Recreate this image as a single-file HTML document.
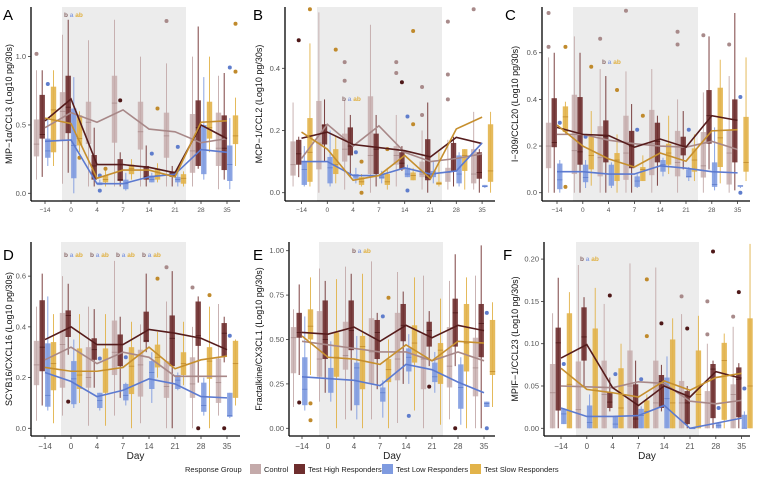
<!DOCTYPE html>
<html><head><meta charset="utf-8"><style>
body{margin:0;background:#fff;}
svg{display:block;font-family:"Liberation Sans",sans-serif;}
</style></head><body>
<svg id="chart" width="757" height="482" viewBox="0 0 757 482"></svg>
<script>
const days = ["\u221214","0","4","7","14","21","28","35"];
const seriesNames = ["Control","Test High Responders","Test Low Responders","Test Slow Responders"];
const panelLetters = ["A","B","C","D","E","F"];
const panelTitles = ["MIP\u22121\u03b1/CCL3 (Log10 pg/30s)","MCP\u22121/CCL2 (Log10 pg/30s)","I\u2212309/CCL20 (Log10 pg/30s)","SCYB16/CXCL16 (Log10 pg/30s)","Fractalkine/CX3CL1 (Log10 pg/30s)","MPIF\u22121/CCL23 (Log10 pg/30s)"];
const yTickValues = [[0,0.5,1.0],[0,0.2,0.4],[0,0.2,0.4,0.6],[0,0.2,0.4,0.6],[0,0.25,0.5,0.75,1.0],[0,0.05,0.1,0.15,0.2]];
const yTickLabels = [["0.0","0.5","1.0"],["0.0","0.2","0.4"],["0.0","0.2","0.4","0.6"],["0.0","0.2","0.4","0.6"],["0.00","0.25","0.50","0.75","1.00"],["0.00","0.05","0.10","0.15","0.20"]];
// means [panel][series][day]
const meansA = [[0.48,0.59,0.52,0.61,0.47,0.45,0.37,0.40],[0.53,0.69,0.21,0.21,0.19,0.15,0.50,0.40],[0.38,0.39,0.07,0.07,0.12,0.14,0.32,0.30],[0.55,0.51,0.11,0.17,0.17,0.12,0.52,0.53]];
const meansB = [[0.11,0.22,0.15,0.215,0.13,0.10,0.11,0.125],[0.175,0.195,0.155,0.145,0.135,0.115,0.178,0.158],[0.10,0.10,0.055,0.055,0.08,0.06,0.07,0.16],[0.195,0.14,0.04,0.055,0.12,0.045,0.205,0.243]];
const meansC = [[0.25,0.25,0.225,0.21,0.20,0.195,0.22,0.185],[0.28,0.25,0.245,0.195,0.23,0.195,0.33,0.31],[0.09,0.09,0.08,0.08,0.115,0.105,0.09,0.085],[0.29,0.20,0.145,0.11,0.17,0.135,0.265,0.27]];
const meansD = [[0.27,0.32,0.255,0.30,0.28,0.205,0.205,0.205],[0.35,0.40,0.33,0.33,0.39,0.375,0.355,0.31],[0.22,0.185,0.125,0.15,0.195,0.175,0.125,0.12],[0.24,0.225,0.225,0.24,0.32,0.235,0.27,0.285]];
const meansE = [[0.49,0.47,0.45,0.43,0.43,0.38,0.43,0.38],[0.54,0.53,0.57,0.49,0.58,0.51,0.58,0.55],[0.29,0.28,0.27,0.24,0.36,0.33,0.26,0.20],[0.52,0.40,0.39,0.36,0.47,0.38,0.49,0.48]];
const meansF = [[0.05,0.049,0.048,0.055,0.053,0.032,0.029,0.033],[0.083,0.099,0.048,0.027,0.05,0.037,0.067,0.059],[0.024,0.014,0.014,0.015,0.027,0.0,0.006,0.012],[0.071,0.046,0.042,0.037,0.056,0.045,0.06,0.065]];
// boxes [series][day] = [lo,q1,med,q3,hi]
const boxesA = [
[[0.1,0.27,0.36,0.54,0.9],[0.07,0.39,0.6,0.74,1.16],[0.05,0.36,0.52,0.67,1.12],[0.05,0.37,0.66,0.86,1.27],[0.05,0.32,0.45,0.67,1.0],[0.05,0.26,0.42,0.59,0.95],[0.05,0.15,0.31,0.58,1.0],[0.03,0.2,0.33,0.59,0.86]],
[[0.12,0.4,0.43,0.72,0.9],[0.15,0.44,0.63,0.86,1.27],[0.05,0.1,0.2,0.28,0.48],[0.05,0.09,0.1,0.25,0.3],[0.05,0.1,0.12,0.2,0.35],[0.05,0.12,0.14,0.16,0.2],[0.18,0.2,0.48,0.68,1.22],[0.1,0.17,0.33,0.57,0.88]],
[[0.2,0.26,0.31,0.4,0.55],[0.0,0.11,0.35,0.62,0.85],[0.06,0.06,0.07,0.08,0.1],[0.02,0.03,0.07,0.1,0.15],[0.08,0.08,0.1,0.13,0.15],[0.05,0.08,0.1,0.12,0.18],[0.1,0.14,0.32,0.5,0.85],[0.03,0.09,0.21,0.35,0.55]],
[[0.2,0.3,0.61,0.78,0.9],[0.3,0.35,0.4,0.57,0.6],[0.05,0.08,0.1,0.13,0.17],[0.1,0.14,0.18,0.21,0.25],[0.08,0.1,0.13,0.18,0.22],[0.05,0.07,0.11,0.14,0.16],[0.3,0.4,0.48,0.67,1.0],[0.2,0.36,0.42,0.57,0.7]]];
const boxesB = [
[[0.02,0.055,0.09,0.165,0.29],[0.0,0.075,0.16,0.295,0.58],[0.01,0.1,0.14,0.19,0.3],[0.0,0.06,0.12,0.31,0.54],[0.02,0.09,0.12,0.15,0.25],[0.01,0.05,0.06,0.1,0.2],[0.01,0.035,0.065,0.08,0.17],[0.01,0.03,0.06,0.14,0.26]],
[[0.05,0.09,0.125,0.17,0.18],[0.1,0.155,0.215,0.22,0.3],[0.05,0.12,0.15,0.21,0.25],[0.02,0.06,0.14,0.19,0.25],[0.07,0.075,0.095,0.13,0.15],[0.0,0.04,0.05,0.172,0.29],[0.02,0.07,0.11,0.16,0.18],[0.0,0.045,0.065,0.13,0.14]],
[[0.02,0.025,0.075,0.1,0.15],[0.02,0.03,0.08,0.115,0.2],[0.03,0.045,0.055,0.06,0.08],[0.03,0.045,0.05,0.06,0.07],[0.05,0.05,0.06,0.08,0.09],[0.03,0.05,0.06,0.07,0.1],[0.02,0.03,0.06,0.12,0.13],[0.015,0.018,0.02,0.025,0.025]],
[[0.02,0.035,0.13,0.24,0.48],[0.03,0.06,0.09,0.14,0.18],[0.02,0.025,0.035,0.05,0.06],[0.01,0.025,0.035,0.06,0.08],[0.04,0.04,0.055,0.065,0.08],[0.02,0.025,0.03,0.035,0.13],[0.01,0.07,0.12,0.14,0.14],[0.0,0.035,0.07,0.22,0.26]]];
const boxesC = [
[[0.0,0.105,0.2,0.3,0.58],[0.0,0.08,0.18,0.42,0.67],[0.0,0.07,0.15,0.285,0.53],[0.0,0.055,0.17,0.33,0.52],[0.0,0.075,0.21,0.355,0.53],[0.0,0.07,0.13,0.265,0.4],[0.0,0.065,0.115,0.26,0.43],[0.0,0.035,0.17,0.27,0.5]],
[[0.0,0.195,0.215,0.405,0.6],[0.0,0.12,0.175,0.41,0.6],[0.0,0.13,0.24,0.31,0.5],[0.0,0.105,0.2,0.265,0.38],[0.03,0.13,0.22,0.3,0.33],[0.1,0.16,0.2,0.24,0.35],[0.1,0.21,0.33,0.44,0.67],[0.01,0.13,0.27,0.4,0.77]],
[[0.0,0.015,0.055,0.125,0.14],[0.02,0.045,0.065,0.12,0.14],[0.02,0.03,0.08,0.12,0.13],[0.02,0.025,0.05,0.07,0.08],[0.07,0.09,0.12,0.14,0.15],[0.05,0.065,0.07,0.1,0.11],[0.01,0.025,0.035,0.13,0.28],[0.02,0.025,0.03,0.03,0.03]],
[[0.25,0.26,0.325,0.37,0.39],[0.03,0.1,0.16,0.24,0.35],[0.0,0.05,0.14,0.17,0.25],[0.05,0.05,0.1,0.11,0.16],[0.08,0.12,0.17,0.21,0.33],[0.05,0.09,0.14,0.19,0.25],[0.04,0.11,0.235,0.45,0.57],[0.05,0.09,0.13,0.325,0.58]]];
const boxesD = [
[[0.03,0.17,0.25,0.345,0.48],[0.05,0.16,0.33,0.455,0.6],[0.01,0.16,0.2,0.32,0.48],[0.05,0.21,0.3,0.425,0.66],[0.02,0.125,0.25,0.31,0.41],[0.0,0.12,0.165,0.265,0.5],[0.0,0.12,0.175,0.28,0.4],[0.05,0.1,0.18,0.275,0.49]],
[[0.09,0.225,0.32,0.505,0.61],[0.29,0.36,0.445,0.465,0.57],[0.16,0.27,0.31,0.355,0.47],[0.12,0.245,0.33,0.37,0.44],[0.3,0.34,0.345,0.46,0.61],[0.0,0.245,0.355,0.445,0.62],[0.18,0.325,0.365,0.5,0.52],[0.26,0.285,0.375,0.415,0.44]],
[[0.07,0.085,0.13,0.335,0.52],[0.08,0.095,0.195,0.265,0.35],[0.07,0.08,0.11,0.14,0.14],[0.09,0.11,0.13,0.175,0.18],[0.1,0.155,0.22,0.265,0.3],[0.15,0.155,0.19,0.21,0.22],[0.05,0.065,0.09,0.18,0.2],[0.04,0.045,0.05,0.14,0.14]],
[[0.02,0.15,0.255,0.34,0.45],[0.1,0.155,0.21,0.315,0.45],[0.01,0.14,0.23,0.315,0.45],[0.0,0.135,0.245,0.32,0.42],[0.2,0.24,0.28,0.33,0.38],[0.17,0.21,0.255,0.3,0.42],[0.0,0.195,0.265,0.32,0.48],[0.09,0.12,0.255,0.345,0.35]]];
const boxesE = [
[[0.12,0.31,0.51,0.57,0.67],[0.15,0.29,0.39,0.66,0.9],[0.05,0.33,0.41,0.6,0.91],[0.05,0.25,0.43,0.62,0.94],[0.03,0.27,0.39,0.65,0.88],[0.0,0.22,0.39,0.53,0.86],[0.05,0.23,0.35,0.57,0.83],[0.0,0.18,0.34,0.51,0.86]],
[[0.3,0.51,0.54,0.65,0.81],[0.2,0.39,0.5,0.72,0.83],[0.1,0.44,0.55,0.72,0.87],[0.22,0.39,0.54,0.61,0.65],[0.25,0.49,0.58,0.7,0.77],[0.35,0.46,0.55,0.6,0.66],[0.35,0.46,0.65,0.73,0.98],[0.0,0.4,0.59,0.7,1.03]],
[[0.1,0.13,0.22,0.4,0.63],[0.15,0.2,0.28,0.34,0.49],[0.05,0.13,0.34,0.37,0.52],[0.06,0.15,0.2,0.23,0.27],[0.25,0.32,0.4,0.45,0.53],[0.2,0.26,0.29,0.37,0.43],[0.02,0.11,0.23,0.36,0.4],[0.12,0.12,0.14,0.15,0.15]],
[[0.3,0.5,0.575,0.67,0.85],[0.0,0.29,0.4,0.54,0.84],[0.0,0.22,0.46,0.52,0.87],[0.0,0.26,0.33,0.39,0.5],[0.1,0.37,0.48,0.58,0.85],[0.02,0.25,0.44,0.48,0.73],[0.0,0.32,0.48,0.7,0.85],[0.12,0.3,0.32,0.61,0.71]]];
const boxesF = [
[[0,0,0.042,0.076,0.136],[0,0,0.022,0.079,0.193],[0,0,0.04,0.08,0.147],[0,0,0.05,0.092,0.195],[0,0,0.03,0.08,0.19],[0,0,0.03,0.056,0.135],[0,0,0.03,0.044,0.1],[0,0,0.04,0.052,0.12]],
[[0,0.021,0.101,0.119,0.178],[0.05,0.08,0.108,0.143,0.155],[0.02,0.024,0.031,0.043,0.06],[0,0,0.011,0.052,0.08],[0.02,0.024,0.055,0.063,0.075],[0,0.005,0.03,0.044,0.05],[0,0.012,0.07,0.076,0.08],[0,0.013,0.058,0.072,0.077]],
[[0.005,0.005,0.017,0.023,0.024],[0,0,0.007,0.027,0.04],[0,0,0.005,0.014,0.015],[0,0,0.015,0.023,0.026],[0,0,0.035,0.06,0.085],[0,0,0,0,0],[0,0,0.003,0.006,0.007],[0,0,0,0.016,0.02]],
[[0,0,0.052,0.136,0.161],[0,0,0.045,0.118,0.166],[0,0,0.024,0.071,0.1],[0,0,0.02,0.033,0.04],[0,0,0.03,0.105,0.13],[0,0,0.04,0.092,0.133],[0,0.01,0.08,0.101,0.112],[0,0,0.05,0.13,0.218]]];
// outliers [series, dayIndex, value]
const outliersA = [[0,0,1.02],[2,0,0.8],[3,1,0.26],[2,2,0.02],[2,2,0.13],[3,2,0.18],[1,3,0.68],[2,4,0.29],[3,4,0.62],[0,5,1.26],[2,5,0.34],[2,7,0.92],[3,7,1.24],[3,7,0.89]];
const outliersB = [[1,0,0.49],[3,0,0.59],[3,1,0.46],[0,2,0.42],[0,2,0.36],[2,2,0.13],[3,2,0.1],[3,2,0.0],[3,3,0.14],[0,4,0.42],[0,4,0.385],[1,4,0.355],[2,4,0.245],[2,4,0.007],[3,4,0.52],[3,4,0.22],[0,5,0.34],[0,5,0.25],[0,6,0.55],[0,6,0.38],[0,6,0.3],[0,7,0.59]];
const outliersC = [[0,0,0.77],[0,0,0.625],[3,0,0.625],[3,0,0.025],[2,0,0.3],[2,1,0.24],[3,1,0.54],[0,2,0.66],[3,2,0.44],[0,3,0.78],[2,3,0.27],[3,3,0.33],[0,5,0.69],[0,5,0.635],[2,5,0.27],[0,6,0.675],[0,7,0.635],[2,7,0.41],[2,7,0.0]];
const outliersD = [[1,1,0.105],[2,2,0.275],[2,3,0.28],[3,4,0.59],[0,5,0.635],[0,6,0.555],[1,6,0.0],[3,6,0.525],[1,7,0.0],[2,7,0.365]];
const outliersE = [[1,0,0.145],[3,0,0.14],[3,0,0.045],[2,3,0.63],[3,3,0.735],[2,4,0.07],[1,5,0.235],[1,6,0.0],[2,7,0.65],[2,7,0.0]];
const outliersF = [[2,0,0.076],[1,2,0.157],[2,2,0.064],[2,3,0.058],[3,3,0.176],[3,3,0.109],[1,4,0.124],[0,5,0.156],[1,5,0.118],[0,6,0.15],[0,6,0.111],[1,6,0.209],[2,6,0.024],[0,7,0.132],[1,7,0.161],[2,7,0.047]];

const allMeans=[meansA,meansB,meansC,meansD,meansE,meansF];
const allBoxes=[boxesA,boxesB,boxesC,boxesD,boxesE,boxesF];
const allOut=[outliersA,outliersB,outliersC,outliersD,outliersE,outliersF];
const geo=[
{ax:31,bx:201,top:7,right:240,d0:45,step:26,y0:193.3,sc:136.7,s1:62,s2:186,lx:3,ly:20,tx:12},
{ax:285,bx:201,top:7,right:495,d0:301.5,step:25.8,y0:192.7,sc:311,s1:317,s2:442,lx:253,ly:20,tx:262},
{ax:542,bx:201,top:7,right:750,d0:557,step:25.8,y0:192.7,sc:233.3,s1:573,s2:698,lx:505,ly:20,tx:518},
{ax:31,bx:436,top:242,right:240,d0:45,step:26,y0:428.3,sc:253.6,s1:61,s2:186,lx:3,ly:260,tx:12},
{ax:289,bx:436,top:242,right:495,d0:302,step:26,y0:428.3,sc:177.6,s1:319,s2:443,lx:253,ly:260,tx:262},
{ax:544,bx:436,top:242,right:750,d0:561,step:25.8,y0:428.3,sc:846,s1:576,s2:699,lx:503,ly:260,tx:518}];
const fills=["#c4aaaa","#6e2e2e","#7f9be0","#e2b34a"];
const edges=["#a88a8a","#4e1818","#5f7dcc","#c08a2c"];
const lineC=["#a88888","#561c1c","#5c7ad0","#c68f2e"];
const NS="http://www.w3.org/2000/svg";
const svg=document.getElementById('chart');
function mk(tag,attrs,parent){const e=document.createElementNS(NS,tag);for(const k in attrs)e.setAttribute(k,attrs[k]);(parent||svg).appendChild(e);return e;}

geo.forEach((g,p)=>{
  const grp=mk('g',{});
  
  
  const yS=v=>g.y0-v*g.sc;
  const xS=(d,s)=>g.d0+d*g.step+[-8.5,-2.8,2.8,8.5][s]*g.step/26;
  const sh=mk('rect',{x:g.s1,y:g.top,width:g.s2-g.s1,height:g.bx-g.top,fill:"#ececec"},grp);
  
  
  const bw=5.4*g.step/26;
  allBoxes[p].forEach((ser,s)=>ser.forEach((b,d)=>{
    const x=xS(d,s);
    const bg=mk('g',{},grp);
    
    
    mk('line',{x1:x,x2:x,y1:yS(b[0]),y2:yS(b[4]),stroke:fills[s],'stroke-width':1,opacity:0.9},bg);
    mk('rect',{x:x-bw/2,y:yS(b[3]),width:bw,height:Math.max(0.8,yS(b[1])-yS(b[3])),fill:fills[s],opacity:s==0?0.8:0.9},bg);
    mk('line',{x1:x-bw/2,x2:x+bw/2,y1:yS(b[2]),y2:yS(b[2]),stroke:edges[s],'stroke-width':0.8},bg);
  }));
  allOut[p].forEach(o=>{
    const c=mk('circle',{cx:xS(o[1],o[0]),cy:yS(o[2]),r:2,fill:edges[o[0]]},grp);
    
    
  });
  allMeans[p].forEach((m,s)=>{
    const pts=m.map((v,d)=>(g.d0+d*g.step)+','+yS(v)).join(' ');
    const l=mk('polyline',{points:pts,fill:'none',stroke:lineC[s],'stroke-width':1.6},grp);
    
    
  });
  mk('line',{x1:g.ax,x2:g.ax,y1:g.top,y2:g.bx,stroke:'#000','stroke-width':1.3},grp);
  mk('line',{x1:g.ax,x2:g.right,y1:g.bx,y2:g.bx,stroke:'#000','stroke-width':1.3},grp);
  yTickValues[p].forEach((v,i)=>{
    mk('line',{x1:g.ax-3,x2:g.ax,y1:yS(v),y2:yS(v),stroke:'#333','stroke-width':0.8},grp);
    const t=mk('text',{x:g.ax-5,y:yS(v)+2.5,'font-size':7.5,fill:'#555','text-anchor':'end'},grp);
    t.textContent=yTickLabels[p][i];
  });
  days.forEach((dl,d)=>{
    const x=g.d0+d*g.step;
    mk('line',{x1:x,x2:x,y1:g.bx,y2:g.bx+3,stroke:'#333','stroke-width':0.8},grp);
    const t=mk('text',{x:x,y:g.bx+(p<3?11:13),'font-size':p<3?6.5:8,fill:'#555','text-anchor':'middle'},grp);
    t.textContent=dl;
  });
  const cy=(g.top+g.bx)/2;
  const yt=mk('text',{x:g.tx,y:cy,'font-size':9,fill:'#111','text-anchor':'middle',transform:`rotate(-90 ${g.tx} ${cy})`},grp);
  
  
  yt.textContent=panelTitles[p];
  const lt=mk('text',{x:g.lx,y:g.ly,'font-size':15,fill:'#000'},grp);
  
  
  lt.textContent=panelLetters[p];
  if(p>=3){
    const dx=mk('text',{x:(g.ax+g.right)/2,y:459,'font-size':10,fill:'#222','text-anchor':'middle'},grp);
    
    
    dx.textContent='Day';
  }
});
// significance letters
const letterSets=[[0,72,17],[1,350,101],[2,610,64],[3,72,257],[3,98,257],[3,124,257],[3,150,257],[4,360,253],[5,588,261]];
letterSets.forEach(ls=>{
  const t=mk('text',{x:ls[1]-8,y:ls[2],'font-size':6.5,'font-weight':'bold'});
  
  
  const parts=[["b","#8a6a6a"],[" a ","#8aa0e0"],["ab","#e0b040"]];
  parts.forEach(pp=>{const ts=mk('tspan',{fill:pp[1]},t);ts.textContent=pp[0];});
});
// legend
const lg=mk('g',{});


const lt0=mk('text',{x:185,y:472,'font-size':7.5,fill:'#222'},lg);lt0.textContent='Response Group';
const legX=[250,294,382,470];
seriesNames.forEach((n,i)=>{
  const it=mk('g',{},lg);
  
  
  mk('rect',{x:legX[i],y:464,width:11,height:10,fill:fills[i]},it);
  const t=mk('text',{x:legX[i]+14,y:472,'font-size':7.5,fill:'#222'},it);t.textContent=n;
});
</script>
</body></html>
